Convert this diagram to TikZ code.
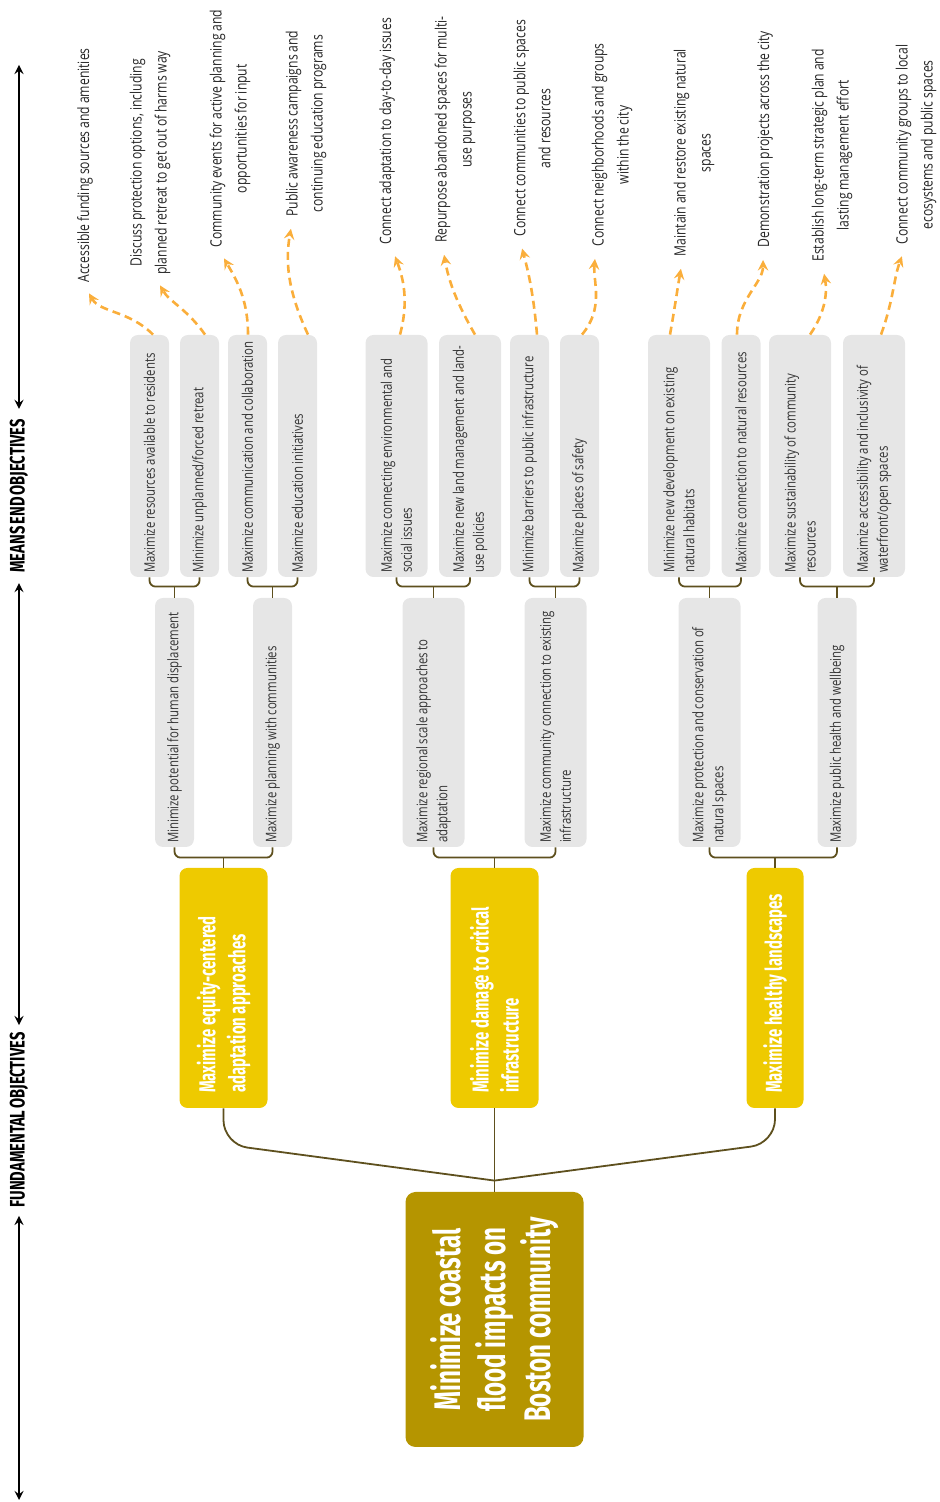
\documentclass[tikz,border=0pt]{standalone}
\usepackage{fontspec}
\setmainfont{Open Sans}[FakeStretch=0.78, WordSpace=0.9]
\newfontfamily\headfont{Fira Sans}[FakeStretch=0.65]
\newfontfamily\axisfont{Fira Sans}[FakeStretch=0.7, WordSpace=0.6]

\definecolor{boxgray}{RGB}{230,230,230}
\definecolor{rootgold}{RGB}{181,149,0}
\definecolor{fundyellow}{RGB}{238,202,0}
\definecolor{linkolive}{RGB}{94,80,30}
\definecolor{flowamber}{RGB}{250,174,59}
\definecolor{inkgray}{RGB}{51,51,51}

\begin{document}
\begin{tikzpicture}[>=stealth, x=0.5pt, y=0.5pt,
    meansbox/.style={rotate=90, fill=boxgray, rounded corners=4pt, text=inkgray, align=flush left,
        inner xsep=2pt, inner ysep=0pt, font=\fontsize{7.3}{10}\selectfont},
    lvlthree/.style={meansbox, minimum width=121pt, text width=117pt},
    lvltwo/.style={meansbox, minimum width=124.5pt, text width=120.5pt},
    onerow/.style={minimum height=19.5pt},
    tworow/.style={minimum height=31pt},
    fundbox/.style={rotate=90, fill=fundyellow, rounded corners=4pt, text=white, align=flush left,
        minimum width=120pt, text width=105pt, inner xsep=7.5pt,
        font=\headfont\bfseries\fontsize{11.5}{15}\selectfont},
    rootbox/.style={rotate=90, fill=rootgold, rounded corners=5pt, text=white, align=center,
        minimum width=127.5pt, minimum height=89pt,
        font=\headfont\bfseries\fontsize{18.5}{22.5}\selectfont},
    means/.style={rotate=90, anchor=west, align=center, inner sep=0pt, text=black!85,
        font=\fontsize{7.8}{12.5}\selectfont},
    axislabel/.style={rotate=90, inner sep=0pt, font=\axisfont\bfseries\fontsize{10.5}{10.5}\selectfont},
    axis/.style={<->, line width=1pt},
    link/.style={draw=linkolive, line width=0.9pt, rounded corners=3pt},
    flow/.style={->, draw=flowamber, line width=1.3pt, dash pattern=on 4pt off 2.5pt, shorten >=6pt}]

        \useasboundingbox (0,0) rectangle (939,1502);

        % Side axis with the two level names
        \coordinate (axtop) at (19,1437);
        \coordinate (axbot) at (19,2);
        \node[axislabel] (endlbl) at (19,1006) {MEANS END OBJECTIVES};
        \node[axislabel] (fundlbl) at (19,382) {FUNDAMENTAL OBJECTIVES};
        \draw[axis, shorten >=5pt] (axtop) -- (endlbl.east);
        \draw[axis, shorten <=5pt, shorten >=3.5pt] (endlbl.west) -- (fundlbl.east);
        \draw[axis, shorten <=4pt] (fundlbl.west) -- (axbot);

        % Root objective
        \node[rootbox] (root) at (494.5,182.5) {Minimize coastal\\flood impacts on\\Boston community};

        % Fundamental objectives
        \node[fundbox, minimum height=44pt] (fundA) at (223.5,514) {Maximize equity-centered\\adaptation approaches};
        \node[fundbox, minimum height=44pt] (fundB) at (494.5,514) {Minimize damage to critical\\infrastructure};
        \node[fundbox, minimum height=28.5pt] (fundC) at (775,514) {Maximize healthy landscapes};

        % Second level (means)
        \node[lvltwo, onerow] (h1) at (174.5,779.5) {Minimize potential for human displacement};
        \node[lvltwo, onerow] (h2) at (272.5,779.5) {Maximize planning with communities};
        \node[lvltwo, tworow] (h3) at (433.5,779.5) {Maximize regional scale approaches to\\adaptation};
        \node[lvltwo, tworow] (h4) at (555.5,779.5) {Maximize community connection to existing\\infrastructure};
        \node[lvltwo, tworow] (h5) at (709.5,779.5) {Maximize protection and conservation of\\natural spaces};
        \node[lvltwo, onerow] (h6) at (837,779.5) {Maximize public health and wellbeing};

        % Third level (means)
        \node[lvlthree, onerow] (b1) at (149.5,1046) {Maximize resources available to residents};
        \node[lvlthree, onerow] (b2) at (199.5,1046) {Minimize unplanned/forced retreat};
        \node[lvlthree, onerow] (b3) at (247.5,1046) {Maximize communication and collaboration};
        \node[lvlthree, onerow] (b4) at (297.5,1046) {Maximize education initiatives};
        \node[lvlthree, tworow] (b5) at (396.5,1046) {Maximize connecting environmental and\\social issues};
        \node[lvlthree, tworow] (b6) at (470,1046) {Maximize new land management and land-\\use policies};
        \node[lvlthree, onerow] (b7) at (529.5,1046) {Minimize barriers to public infrastructure};
        \node[lvlthree, onerow] (b8) at (579.5,1046) {Maximize places of safety};
        \node[lvlthree, tworow] (b9) at (679,1046) {Minimize new development on existing\\natural habitats};
        \node[lvlthree, onerow] (b10) at (741,1046) {Maximize connection to natural resources};
        \node[lvlthree, tworow] (b11) at (800,1046) {Maximize sustainability of community\\resources};
        \node[lvlthree, tworow] (b12) at (874,1046) {Maximize accessibility and inclusivity of\\waterfront/open spaces};

        % Actions (top row)
        \node[means] (l1) at (85,1219) {Accessible funding sources and amenities};
        \node[means] (l2) at (150,1227) {Discuss protection options, including\\planned retreat to get out of harms way};
        \node[means] (l3) at (230,1254) {Community events for active planning and\\opportunities for input};
        \node[means] (l4) at (306,1285) {Public awareness campaigns and\\continuing education programs};
        \node[means] (l5) at (387,1257) {Connect adaptation to day-to-day issues};
        \node[means] (l6) at (455,1259) {Repurpose abandoned spaces for multi-\\use purposes};
        \node[means] (l7) at (532,1265) {Connect communities to public spaces\\and resources};
        \node[means] (l8) at (612,1255) {Connect neighborhoods and groups\\within the city};
        \node[means] (l9) at (694,1245) {Maintain and restore existing natural\\spaces};
        \node[means] (l10) at (765,1254) {Demonstration projects across the city};
        \node[means] (l11) at (832,1240) {Establish long-term strategic plan and\\lasting management effort};
        \node[means] (l12) at (916,1257) {Connect community groups to local\\ecosystems and public spaces};

        % Root to fundamental objectives
        \coordinate (hub) at ([yshift=5.5pt]root.east);
        \draw[link] (root.east) -- (fundB.west);
        \draw[link, rounded corners=12pt] (fundA.west) -- ([yshift=-18pt]fundA.west) -- (hub);
        \draw[link, rounded corners=12pt] (fundC.west) -- ([yshift=-17.5pt]fundC.west) -- (hub);

        % Fundamental objectives to second level
        \foreach \p/\a/\b in {fundA/h1/h2, fundB/h3/h4, fundC/h5/h6} {
            \draw[link] (\a.west) |- ([yshift=5pt]\p.east) -| (\b.west);
            \draw[link] (\p.east) -- ([yshift=5pt]\p.east);
        }

        % Second level to third level
        \foreach \p/\a/\b in {h1/b1/b2, h2/b3/b4, h3/b5/b6, h4/b7/b8, h5/b9/b10, h6/b11/b12} {
            \draw[link] (\a.west) |- ([yshift=5.5pt]\p.east) -| (\b.west);
            \draw[link] (\p.east) -- ([yshift=5.5pt]\p.east);
        }

        % Dashed arrows to the actions
        \foreach \b/\l/\sx/\ex/\o/\i in {b1/l1/1.75/-1/135/-60, b2/l2/2.75/2/125/-60,
                b3/l3/0.25/-6/90/-60, b4/l4/5.25/-6.5/115/-100, b5/l5/1.75/2/75/-70,
                b6/l6/2.5/-6.5/120/-80, b7/l7/3.75/-6.5/95/-75, b8/l8/1.25/-8/50/-95,
                b9/l9/-4.5/-5.5/80/-100, b10/l10/-2/-1/90/-90, b11/l11/5/-5/55/-80,
                b12/l12/3.5/-5/70/-110} {
            \draw[flow] ([xshift=\sx pt]\b.east) to[out=\o, in=\i] ([xshift=\ex pt]\l.west);
        }
    \end{tikzpicture}
\end{document}
